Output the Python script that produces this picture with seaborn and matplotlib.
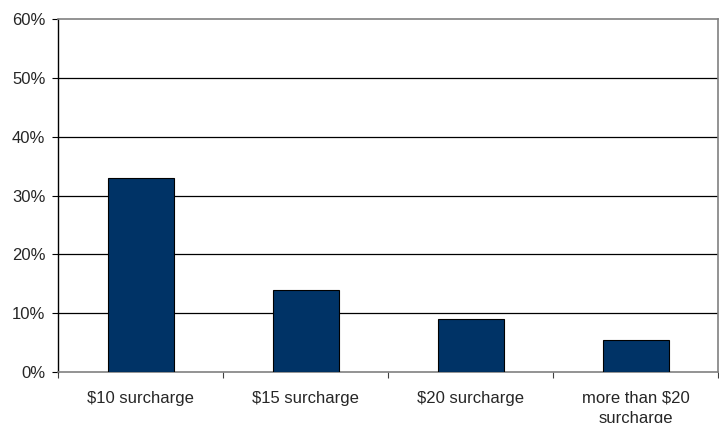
import matplotlib.pyplot as plt
import seaborn as sns
import pandas as pd

categories = ["$10 surcharge", "$15 surcharge", "$20 surcharge", "more than $20\nsurcharge"]
percent = [33.0, 14.0, 9.0, 5.4]
y_ticks = [0, 10, 20, 30, 40, 50, 60]
y_labels = [f"{v}%" for v in y_ticks]

df = pd.DataFrame({"category": categories, "percent": percent})

sns.set_style("white")
plt.rcParams["font.family"] = ["Liberation Sans", "DejaVu Sans"]
plt.rcParams["text.parse_math"] = False

fig = plt.figure(figsize=(7.19, 4.23), dpi=100)
ax = fig.add_axes([58 / 719, 51 / 423, 660 / 719, 353 / 423])

sns.barplot(data=df, x="category", y="percent", color="#003366", saturation=1,
            width=0.4, edgecolor="black", linewidth=0.8, ax=ax, zorder=3)

ax.set_ylim(0, 60)
ax.set_xlim(-0.5, 3.5)
ax.set_yticks(y_ticks)
ax.set_yticklabels(y_labels)
ax.set_xlabel("")
ax.set_ylabel("")

# gridlines
for v in y_ticks[1:-1]:
    ax.axhline(v, color="black", linewidth=0.9, zorder=1)

for side in ["top", "right", "bottom"]:
    ax.spines[side].set_color("#808080")
    ax.spines[side].set_linewidth(1.2)
ax.spines["left"].set_color("black")
ax.spines["left"].set_linewidth(1.0)

ax.tick_params(axis="y", which="major", direction="out", length=4, width=0.8,
               color="black", pad=5, labelsize=12, left=True)
ax.tick_params(axis="x", which="major", length=0, pad=13.5, labelsize=12)
ax.set_xticks([-0.5, 0.5, 1.5, 2.5, 3.5], minor=True)
ax.tick_params(axis="x", which="minor", direction="out", length=4, width=0.8,
               color="#404040", bottom=True)
for lbl in ax.get_xticklabels():
    lbl.set_linespacing(1.4)

fig.savefig("out.png", dpi=100)
